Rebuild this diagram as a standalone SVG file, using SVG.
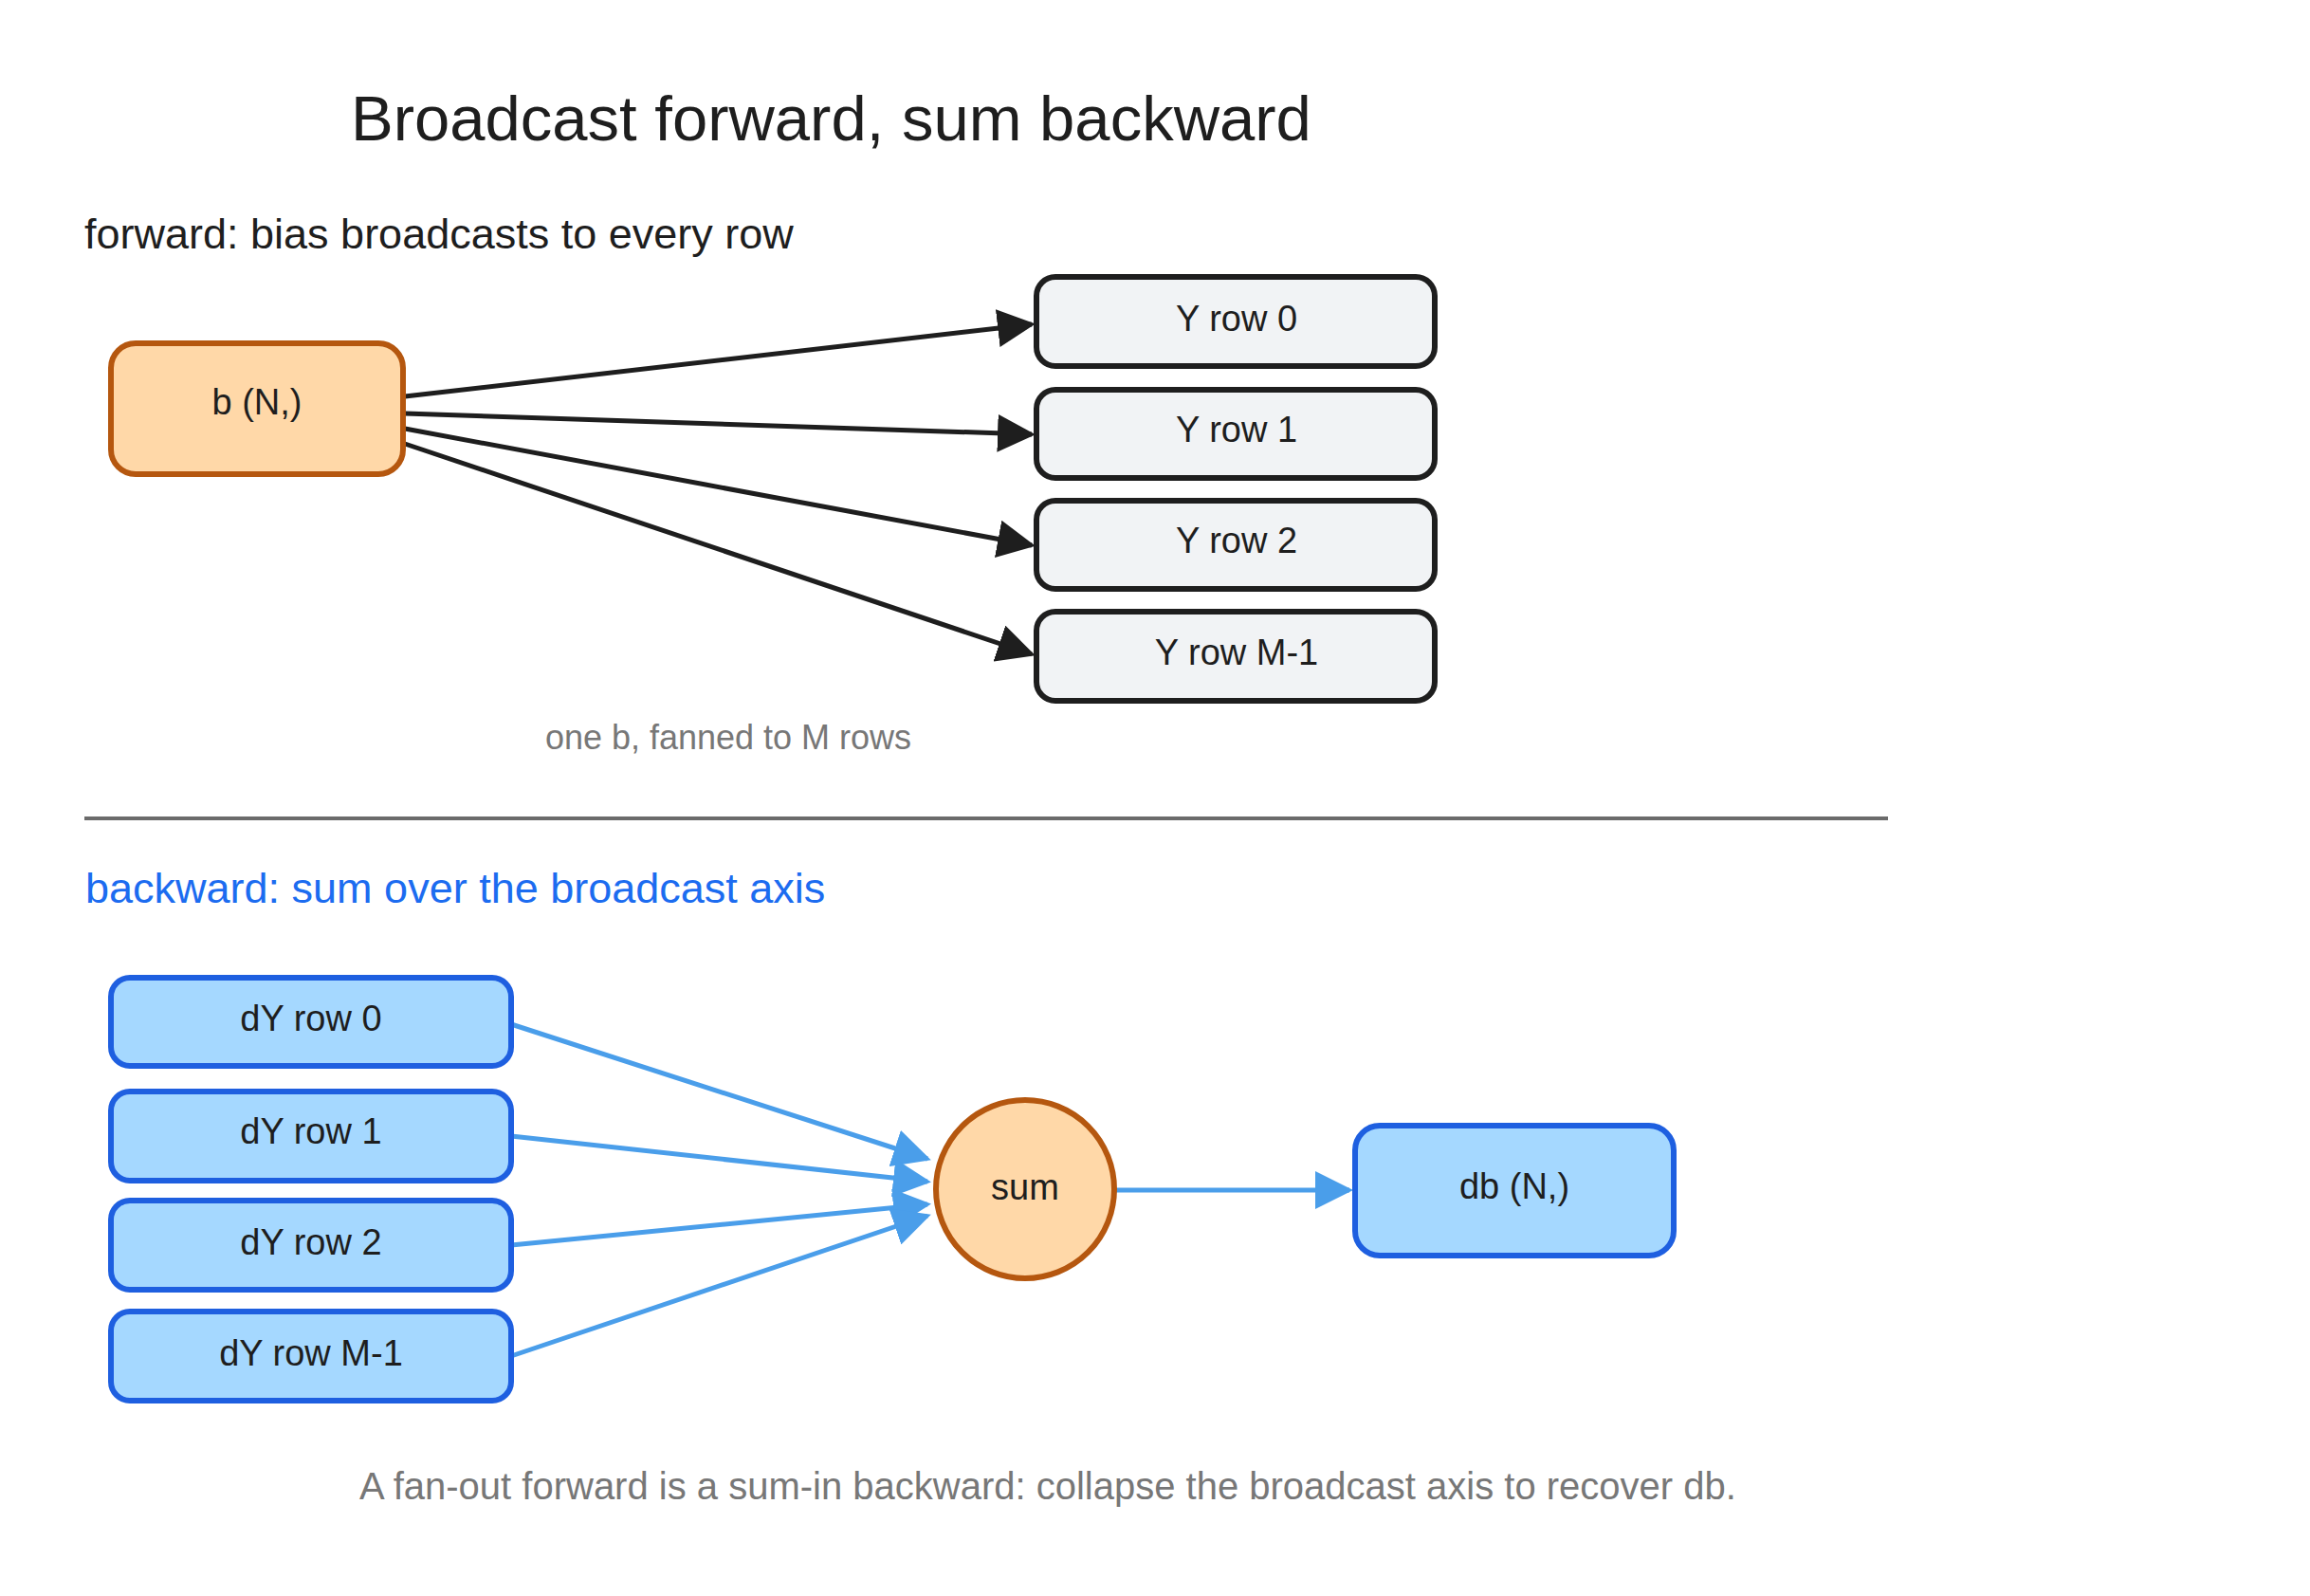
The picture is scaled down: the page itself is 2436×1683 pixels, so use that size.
<svg xmlns="http://www.w3.org/2000/svg" width="2436" height="1683" viewBox="0 0 2436 1683">
<style>
text{font-family:"Liberation Sans","DejaVu Sans",sans-serif;fill:#1e1e1e}
.lbl{font-size:38px;text-anchor:middle;dominant-baseline:central}
.y rect{fill:#f1f3f5;stroke:#1e1e1e;stroke-width:6}
.d rect{fill:#a5d8ff;stroke:#1e5fe0;stroke-width:6}
.o{fill:#ffd8a8;stroke:#b5570f;stroke-width:6}
.fa{stroke:#1e1e1e;stroke-width:5;fill:none;marker-end:url(#ah)}
.ba{stroke:#4a9eea;stroke-width:5;fill:none;marker-end:url(#bh)}
.cap{font-size:36px;fill:#777;text-anchor:middle}
</style>
<defs>
<marker id="ah" viewBox="0 0 10 10" refX="9" refY="5" markerWidth="8" markerHeight="8" markerUnits="strokeWidth" orient="auto"><path d="M0,0L10,5L0,10z" fill="#1e1e1e"/></marker>
<marker id="bh" viewBox="0 0 10 10" refX="9" refY="5" markerWidth="8" markerHeight="8" markerUnits="strokeWidth" orient="auto"><path d="M0,0L10,5L0,10z" fill="#4a9eea"/></marker>
</defs>
<rect width="2436" height="1683" fill="#fff"/>
<text x="370" y="148" style="font-size:67px">Broadcast forward, sum backward</text>
<text x="89" y="262" style="font-size:45px">forward: bias broadcasts to every row</text>
<g id="connectors">
<line class="fa" x1="427" y1="418" x2="1088" y2="342"/>
<line class="fa" x1="427" y1="436" x2="1088" y2="458"/>
<line class="fa" x1="427" y1="452" x2="1088" y2="575"/>
<line class="fa" x1="427" y1="468" x2="1088" y2="690"/>
<line class="ba" x1="539" y1="1080" x2="978" y2="1222"/>
<line class="ba" x1="539" y1="1198" x2="978" y2="1246"/>
<line class="ba" x1="539" y1="1313" x2="978" y2="1270"/>
<line class="ba" x1="539" y1="1430" x2="978" y2="1282"/>
<line class="ba" x1="1177" y1="1255" x2="1423" y2="1255"/>
</g>
<g id="b"><rect class="o" x="117" y="362" width="308" height="138" rx="26"/><text class="lbl" x="271" y="424">b (N,)</text></g>
<g id="y0" class="y"><rect x="1093" y="292" width="420" height="94" rx="20"/><text class="lbl" x="1304" y="336">Y row 0</text></g>
<g id="y1" class="y"><rect x="1093" y="411" width="420" height="93" rx="20"/><text class="lbl" x="1304" y="453">Y row 1</text></g>
<g id="y2" class="y"><rect x="1093" y="528" width="420" height="93" rx="20"/><text class="lbl" x="1304" y="570">Y row 2</text></g>
<g id="ym" class="y"><rect x="1093" y="645" width="420" height="94" rx="20"/><text class="lbl" x="1304" y="688">Y row M-1</text></g>
<text class="cap" x="768" y="790">one b, fanned to M rows</text>
<line x1="89" y1="863" x2="1991" y2="863" stroke="#6b6b6b" stroke-width="4"/>
<text x="90" y="952" style="font-size:45px;fill:#1c6cf0">backward: sum over the broadcast axis</text>
<g id="d0" class="d"><rect x="117" y="1031" width="422" height="93" rx="20"/><text class="lbl" x="328" y="1074">dY row 0</text></g>
<g id="d1" class="d"><rect x="117" y="1151" width="422" height="94" rx="20"/><text class="lbl" x="328" y="1193">dY row 1</text></g>
<g id="d2" class="d"><rect x="117" y="1266" width="422" height="94" rx="20"/><text class="lbl" x="328" y="1310">dY row 2</text></g>
<g id="dm" class="d"><rect x="117" y="1383" width="422" height="94" rx="20"/><text class="lbl" x="328" y="1427">dY row M-1</text></g>
<g id="sum"><circle class="o" cx="1081" cy="1254" r="94"/><text class="lbl" x="1081" y="1252">sum</text></g>
<g id="db" class="d"><rect x="1429" y="1187" width="336" height="137" rx="26"/><text class="lbl" x="1597" y="1251">db (N,)</text></g>
<text class="cap" x="1105" y="1581" style="font-size:40px">A fan-out forward is a sum-in backward: collapse the broadcast axis to recover db.</text>
</svg>
